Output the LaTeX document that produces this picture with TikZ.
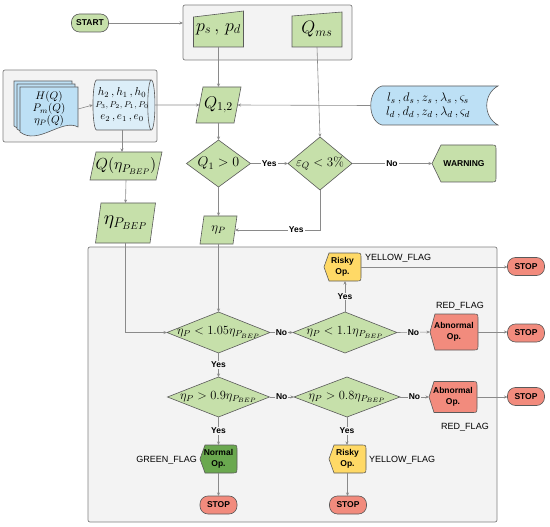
\RequirePackage{fix-cm}
\documentclass[tikz,border=0pt]{standalone}
\usepackage{fontspec}
\setsansfont{Liberation Sans}
\usetikzlibrary{shapes.geometric,shapes.misc,arrows.meta,calc}
\pgfdeclarelayer{bg}\pgfdeclarelayer{mid}\pgfsetlayers{bg,mid,main}
\definecolor{greenc}{HTML}{C6E0AA}
\definecolor{dgreenc}{HTML}{6AA84F}
\definecolor{yellc}{HTML}{FFD966}
\definecolor{redc}{HTML}{F28B7D}
\definecolor{docc}{HTML}{BDE0F5}
\definecolor{cylc}{HTML}{DCEEF8}
\definecolor{boxg}{HTML}{F3F3F3}
\definecolor{boxb}{HTML}{808080}
\definecolor{bordc}{HTML}{5A5A5A}
\definecolor{linec}{HTML}{8A8A8A}
\newcommand\dispshape[3]{%
\begin{pgfonlayer}{mid}
\filldraw[shp,fill=#2] (#1.west) -- ($(#1.north west)+(#3,0)$) -- ($(#1.north east)+(-5pt,0)$) .. controls (#1.north east) .. ($(#1.north east)+(0,-5pt)$) -- ($(#1.south east)+(0,5pt)$) .. controls (#1.south east) .. ($(#1.south east)+(-5pt,0)$) -- ($(#1.south west)+(#3,0)$) -- cycle;
\end{pgfonlayer}}
\newcommand\manshape[2]{%
\begin{pgfonlayer}{mid}
\filldraw[shp,fill=greenc] (#1.south west) -- ($(#1.north west)+(0,-#2)$) -- (#1.north east) -- (#1.south east) -- cycle;
\end{pgfonlayer}}
\newcommand\parashape[2]{%
\begin{pgfonlayer}{mid}
\filldraw[shp,fill=greenc] ($(#1.south west)+(-#2,0)$) -- ($(#1.north west)+(#2,0)$) -- ($(#1.north east)+(#2,0)$) -- ($(#1.south east)+(-#2,0)$) -- cycle;
\end{pgfonlayer}}
\newcommand\docsheet[2]{\filldraw[shp,fill=docc,shift={(#1,#2)}] (20,87) -- (78,87) -- (78,127) .. controls (62,118) and (38,146) .. (20,132) -- cycle;}
\begin{document}
\begin{tikzpicture}[x=1pt,y=-1pt,
  every node/.style={inner sep=0pt,outer sep=0pt},
  shp/.style={draw=bordc,line width=0.6pt},
  conn/.style={draw=linec,line width=0.6pt,-{Stealth[length=3.5pt,width=3pt]}},
  lbl/.style={font=\sffamily\bfseries\fontsize{8.5}{10}\selectfont,inner sep=1pt,fill=white},
  glbl/.style={lbl,fill=boxg},
  flag/.style={font=\sffamily\fontsize{9}{10}\selectfont},
  pill/.style={shp,rectangle,rounded corners=8pt,minimum width=37pt,minimum height=18pt,fill=#1,font=\sffamily\bfseries\fontsize{8.5}{10}\selectfont},
  dia/.style={shp,diamond,fill=greenc},
  box/.style={draw=boxb,fill=boxg,line width=0.7pt,rounded corners=2pt,rectangle},
  disp/.style={rectangle,align=center,font=\sffamily\bfseries\fontsize{8.5}{11}\selectfont},
]
\useasboundingbox (0,0) rectangle (550,527);
\begin{pgfonlayer}{bg}
\node[box,minimum width=169pt,minimum height=55pt] (inbox) at (267.5,32.5) {};
\node[box,minimum width=154pt,minimum height=72pt] (datbox) at (80,106) {};
\node[box,minimum width=409pt,minimum height=275pt] (evalbox) at (292.5,384.5) {};
\end{pgfonlayer}
% start
\node[pill=greenc] (start) at (90,23) {START};
% manual inputs
\node[minimum width=50pt,minimum height=36pt] (ps) at (218.5,29) {\fontsize{18}{20}\selectfont$p_s\,,\,p_d$};
\manshape{ps}{6pt}
\node[minimum width=50pt,minimum height=35pt] (qms) at (317,29.5) {\fontsize{18}{20}\selectfont$Q_{ms}$};
\manshape{qms}{4pt}
% documents
\node[minimum width=58pt,minimum height=44pt,align=center,font=\fontsize{11}{12}\selectfont] (docs) at (49,109) {$H(Q)$\\$P_m(Q)$\\$\eta_P(Q)$};
\begin{pgfonlayer}{mid}
\docsheet{-6}{-6}\docsheet{-3}{-3}\docsheet{0}{0}
\end{pgfonlayer}
% cylinder
\node[shp,cylinder,shape aspect=0.2,minimum width=50pt,minimum height=62pt,cylinder uses custom fill,cylinder body fill=cylc,cylinder end fill=cylc] (cyl) at (122,105) {\makebox[0pt]{\begin{tabular}{@{}c@{}}\fontsize{11.5}{13}\selectfont$h_2\,,h_1\,,h_0$\\ \fontsize{8.5}{13}\selectfont$P_3,P_2,P_1,P_0$\\ \fontsize{11}{13}\selectfont$e_2\,,e_1\,,e_0$\end{tabular}}};
% stored data
\node[minimum width=116pt,minimum height=39pt,align=center,font=\fontsize{12.5}{14.5}\selectfont] (stored) at (428,105.5) {$l_s\,,d_s\,,z_s\,,\lambda_s\,,\varsigma_s$\\$l_d\,,d_d\,,z_d\,,\lambda_d\,,\varsigma_d$};
\begin{pgfonlayer}{mid}
\filldraw[shp,fill=docc] ($(stored.north west)+(12pt,0)$) -- ($(stored.north east)+(12pt,0)$) .. controls ($(stored.north east)+(-3pt,-8pt)$) and ($(stored.south east)+(-3pt,8pt)$) .. ($(stored.south east)+(12pt,0)$) -- ($(stored.south west)+(12pt,0)$) .. controls ($(stored.south west)+(-3pt,4pt)$) and ($(stored.north west)+(-3pt,-4pt)$) .. cycle;
\end{pgfonlayer}
% parallelograms
\node[minimum width=38pt,minimum height=36pt] (q12) at (218.5,105) {\fontsize{17}{19}\selectfont$Q_{1,2}$};
\parashape{q12}{3.5pt}
\node[minimum width=66pt,minimum height=28pt] (qeta) at (126,166) {\fontsize{16}{18}\selectfont$Q(\eta_{P_{BEP}})$};
\parashape{qeta}{3pt}
\node[minimum width=54.5pt,minimum height=40pt] (ebep) at (125.5,223) {\fontsize{20}{22}\selectfont$\eta_{P_{BEP}}$};
\parashape{ebep}{2.75pt}
\node[minimum width=33pt,minimum height=28pt] (etap) at (218.5,230) {\fontsize{13}{15}\selectfont$\eta_P$};
\parashape{etap}{2pt}
% diamonds
\node[dia,minimum width=64pt,minimum height=47pt] (q1) at (218.5,163.5) {\makebox[0pt]{\fontsize{14}{16}\selectfont$Q_1>0$}};
\node[dia,minimum width=64pt,minimum height=53pt] (eps) at (320,163.5) {\makebox[0pt]{\fontsize{13}{15}\selectfont$\varepsilon_Q<3\%$}};
\node[dia,minimum width=103pt,minimum height=41pt] (d1) at (218.5,332.5) {\makebox[0pt]{\fontsize{12.5}{15}\selectfont$\eta_P<1.05\eta_{P_{BEP}}$}};
\node[dia,minimum width=104pt,minimum height=41pt] (d2) at (345,332.5) {\makebox[0pt]{\fontsize{12.5}{15}\selectfont$\eta_P<1.1\eta_{P_{BEP}}$}};
\node[dia,minimum width=102pt,minimum height=40pt] (d3) at (218.5,397) {\makebox[0pt]{\fontsize{12.5}{15}\selectfont$\eta_P>0.9\eta_{P_{BEP}}$}};
\node[dia,minimum width=106pt,minimum height=40pt] (d4) at (347,397) {\makebox[0pt]{\fontsize{12.5}{15}\selectfont$\eta_P>0.8\eta_{P_{BEP}}$}};
% display nodes
\node[disp,minimum width=64pt,minimum height=37pt] (warn) at (464,163.5) {WARNING};
\dispshape{warn}{greenc}{9pt}
\node[disp,minimum width=37pt,minimum height=28pt] (risky1) at (342.5,267) {Risky\\Op.};
\dispshape{risky1}{yellc}{5pt}
\node[disp,minimum width=48pt,minimum height=36pt] (abn1) at (454,332) {Abnormal\\Op.};
\dispshape{abn1}{redc}{5pt}
\node[disp,minimum width=48pt,minimum height=31pt] (abn2) at (453,397) {Abnormal\\Op.};
\dispshape{abn2}{redc}{5pt}
\node[disp,minimum width=37pt,minimum height=28pt] (normal) at (218.5,459) {Normal\\Op.};
\dispshape{normal}{dgreenc}{5pt}
\node[disp,minimum width=37pt,minimum height=28pt] (risky2) at (347.5,459) {Risky\\Op.};
\dispshape{risky2}{yellc}{5pt}
% stops
\node[pill=redc] (stop1) at (526,266.5) {STOP};
\node[pill=redc] (stop2) at (526,333) {STOP};
\node[pill=redc] (stop3) at (526,396.5) {STOP};
\node[pill=redc] (stop4) at (218.5,505) {STOP};
\node[pill=redc] (stop5) at (348,505) {STOP};
% flags
\node[flag,anchor=west] (yf1) at (365,258) {YELLOW\_FLAG};
\node[flag] (rf1) at (460,306) {RED\_FLAG};
\node[flag] (rf2) at (465,427) {RED\_FLAG};
\node[flag,anchor=east] (gf) at (197,460) {GREEN\_FLAG};
\node[flag,anchor=west] (yf2) at (369,460) {YELLOW\_FLAG};
% connectors
\draw[conn] (start.east) -- (start.east -| inbox.west);
\draw[conn] (ps.south) -- (q12.north);
\draw[conn] (qms.south) -- (eps.north);
\draw[conn] (docs.east) -- (cyl.west);
\draw[conn] (cyl.east) -- (q12.west);
\draw[conn] (stored.west) -- (q12.east);
\draw[conn] (cyl.south) -- (cyl.south |- qeta.north);
\draw[conn] (qeta.south) -- (ebep.north);
\draw[conn] (q12.south) -- (q1.north);
\draw[conn] (q1.east) -- node[lbl]{Yes} (eps.west);
\draw[conn] (eps.east) -- node[lbl]{No} (warn.west);
\draw[conn] (eps.south) |- node[lbl,pos=0.64]{Yes} (etap.east);
\draw[conn] (q1.south) -- (etap.north);
\draw[conn] (etap.south) -- (d1.north);
\draw[conn] (ebep.south) |- (d1.west);
\draw[conn] (d1.east) -- node[glbl]{No} (d2.west);
\draw[conn] (d2.north) -- node[glbl]{Yes} (d2.north |- risky1.south);
\draw[conn] (d2.east) -- node[glbl]{No} (abn1.west);
\draw[conn] (risky1.east) -- (risky1.east -| stop1.west);
\draw[conn] (abn1.east) -- (abn1.east -| stop2.west);
\draw[conn] (d1.south) -- node[glbl]{Yes} (d3.north);
\draw[conn] (d3.east) -- node[glbl]{No} (d4.west);
\draw[conn] (d4.east) -- node[glbl]{No} (abn2.west);
\draw[conn] (abn2.east) -- (abn2.east -| stop3.west);
\draw[conn] (d3.south) -- node[glbl]{Yes} (normal.north);
\draw[conn] (normal.south) -- (stop4.north);
\draw[conn] (d4.south) -- node[glbl]{Yes} (d4.south |- risky2.north);
\draw[conn] (risky2.south) -- (risky2.south |- stop5.north);
\end{tikzpicture}
\end{document}
